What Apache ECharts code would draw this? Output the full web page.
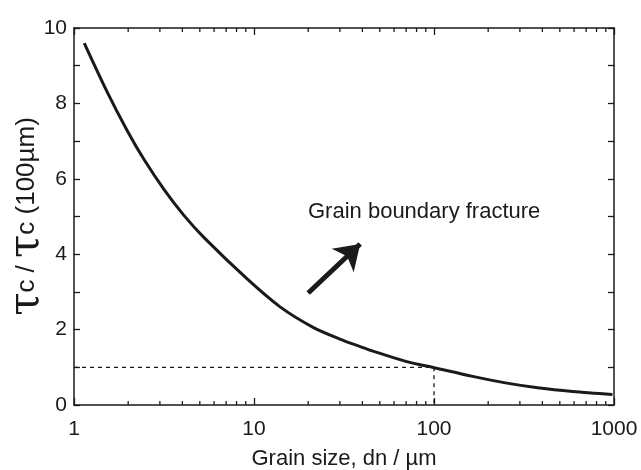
<!DOCTYPE html>
<html>
<head>
<meta charset="utf-8">
<script src="https://cdn.jsdelivr.net/npm/echarts@6/dist/echarts.min.js"></script>
<style>
  html, body { margin: 0; padding: 0; background: #fff; }
  #chart { width: 641px; height: 470px; }
</style>
</head>
<body>
<div id="chart"></div>
<script>
// grain size (um) and normalised strength tau_c / tau_c(100um)
const grainSize = [1.14, 1.53, 1.98, 2.45, 3.16, 4.08, 5.28, 9.13, 13.9, 21.3, 30, 38.9, 45.8, 70.5, 100, 164, 254, 386, 590, 980]
const tauRatio  = [9.6, 8.3, 7.27, 6.51, 5.72, 5.03, 4.44, 3.35, 2.61, 2.06, 1.75, 1.55, 1.43, 1.15, 0.99, 0.76, 0.58, 0.45, 0.36, 0.28]

// dashed guide at 100 um
const guideLine = [[1, 1], [100, 1], [100, 0]]

// arrow tail / tip
const arrowFrom = [20, 2.97]
const arrowTo = [38.9, 4.27]

// minor log ticks (2..9 in each decade)
const minorTicks = [2, 3, 4, 5, 6, 7, 8, 9, 20, 30, 40, 50, 60, 70, 80, 90, 200, 300, 400, 500, 600, 700, 800, 900]

const ink = '#1a1a1a'
const labelFont = 'Liberation Sans, Arial, sans-serif'

const chart = echarts.init(document.getElementById('chart'))

const axisLine = { show: true, onZero: false, lineStyle: { color: ink, width: 1.5 } }

chart.setOption({
  animation: false,
  backgroundColor: '#fff',
  grid: { left: 74, right: 27, top: 28, bottom: 65, outerBoundsMode: 'none', containLabel: false },
  graphic: [{
    type: 'text',
    left: 308,
    top: 201,
    style: { text: 'Grain boundary fracture', fontSize: 22, fill: ink, fontFamily: labelFont }
  }],
  xAxis: [
    {
      type: 'log', logBase: 10, min: 1, max: 1000, position: 'bottom',
      axisLine: axisLine,
      axisTick: { show: true, inside: true, length: 7, lineStyle: { color: ink, width: 1.3 } },
      splitLine: { show: false },
      axisLabel: { fontSize: 21, color: ink, margin: 14, fontFamily: labelFont, formatter: v => String(v) },
      name: 'Grain size, dn / \u00b5m',
      nameLocation: 'middle',
      nameGap: 43,
      nameMoveOverlap: false,
      nameTextStyle: { fontSize: 22, color: ink, fontFamily: labelFont }
    },
    {
      type: 'log', logBase: 10, min: 1, max: 1000, position: 'top',
      axisLine: axisLine,
      axisTick: { show: true, inside: true, length: 7, lineStyle: { color: ink, width: 1.3 } },
      splitLine: { show: false },
      axisLabel: { show: false }
    }
  ],
  yAxis: [
    {
      type: 'value', min: 0, max: 10, interval: 1, position: 'left',
      axisLine: axisLine,
      axisTick: { show: true, inside: true, length: 6, lineStyle: { color: ink, width: 1.3 } },
      splitLine: { show: false },
      axisLabel: {
        fontSize: 21, color: ink, margin: 7, fontFamily: labelFont,
        formatter: v => (v % 2 === 0 ? String(v) : '')
      },
      name: '{t|\u03c4}{s|c / }{t|\u03c4}{s|c (100\u00b5m)}',
      nameLocation: 'middle',
      nameGap: 26,
      nameMoveOverlap: false,
      nameRotate: 90,
      nameTextStyle: {
        color: ink,
        rich: {
          t: { fontSize: 42, fontFamily: 'DejaVu Serif, serif', color: ink },
          s: { fontSize: 26, fontFamily: labelFont, color: ink }
        }
      }
    },
    {
      type: 'value', min: 0, max: 10, interval: 1, position: 'right',
      axisLine: axisLine,
      axisTick: { show: true, inside: true, length: 6, lineStyle: { color: ink, width: 1.3 } },
      splitLine: { show: false },
      axisLabel: { show: false }
    }
  ],
  series: [
    {
      type: 'line',
      data: grainSize.map((d, i) => [d, tauRatio[i]]),
      smooth: 0.3,
      showSymbol: false,
      lineStyle: { color: ink, width: 3 },
      z: 5
    },
    {
      type: 'line',
      data: guideLine,
      showSymbol: false,
      lineStyle: { color: ink, width: 1.3, type: [4, 4] },
      markLine: {
        silent: true,
        symbol: ['none', 'arrow'],
        symbolSize: 24,
        label: { show: false },
        lineStyle: { color: ink, width: 5, type: 'solid' },
        itemStyle: { color: ink },
        data: [[{ coord: arrowFrom }, { coord: arrowTo }]]
      }
    },
    {
      type: 'custom',
      data: minorTicks.map(v => [v, 0]),
      renderItem: (params, api) => {
        const v = api.value(0)
        const b = api.coord([v, 0])
        const t = api.coord([v, 10])
        const style = { stroke: ink, lineWidth: 1.3 }
        return {
          type: 'group',
          children: [
            { type: 'line', shape: { x1: b[0], y1: b[1], x2: b[0], y2: b[1] - 4 }, style: style },
            { type: 'line', shape: { x1: t[0], y1: t[1], x2: t[0], y2: t[1] + 4 }, style: style }
          ]
        }
      },
      silent: true
    }
  ]
})
</script>
</body>
</html>
